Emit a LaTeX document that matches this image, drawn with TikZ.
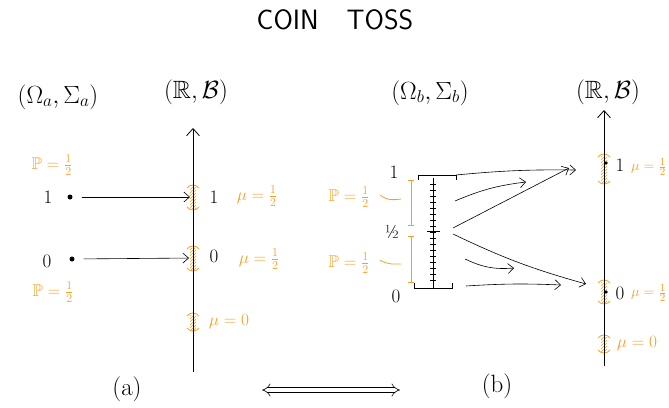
\documentclass[tikz,border=0pt]{standalone}
\usepackage{amsmath,amssymb}
\usepackage{xcolor}
\usetikzlibrary{positioning,arrows.meta,calc,patterns}
\definecolor{measorange}{RGB}{245,160,35}
\tikzset{
space/.style={
font=\fontsize{25}{27}\selectfont,
inner sep=1pt
},
numlbl/.style={
font=\fontsize{19}{21}\selectfont,
inner sep=1pt
},
problbl/.style={
text=measorange,
font=\fontsize{17}{19}\selectfont,
inner sep=1pt
},
axis/.style={
thick,
-{Straight Barb[length=2.5mm,width=4.5mm]}
},
arrow/.style={
semithick,
-{Straight Barb[length=2mm,width=3.5mm]}
},
dot/.style={
circle,
fill,
inner sep=0pt,
minimum size=5pt
},
bracket/.style={
measorange,
thick
}
}
% orange interval on an axis: x, top y, bottom y
\newcommand{\measbar}[3]{%
\draw[bracket] (#1-6,#2+4) .. controls (#1-3,#2) and (#1+3,#2) .. (#1+6,#2+4);
\draw[bracket] (#1-6,#3-4) .. controls (#1-3,#3) and (#1+3,#3) .. (#1+6,#3-4);
\fill[pattern=north east lines,pattern color=measorange] (#1-3,#2+3) rectangle (#1+3,#3-3);
}

\begin{document}
\begin{tikzpicture}[x=1pt,y=-1pt]
\useasboundingbox (0,0) rectangle (669,407);
\node[font=\sffamily\fontsize{28}{30}\selectfont](title) at (335,20){COIN\quad TOSS};

% (a)
\node[space](omegaA) at (58,97){$(\Omega_a,\Sigma_a)$};
\node[space](realA) at (196,92){$(\mathbb{R},\mathcal{B})$};
\coordinate (axAbot) at (193,372);
\coordinate (axAtop) at (193,128);
\measbar{193}{184}{211}
\measbar{193}{245}{272}
\measbar{193}{312}{332}
\draw[axis](axAbot)--(axAtop);

\node[dot](a1) at (70,197){};
\node[dot](a0) at (72,259){};
\node[numlbl](a1lbl) at (48,197){1};
\node[numlbl](a0lbl) at (47,261){0};
\node[problbl](pa1) at (52,165){$\mathbb{P}=\frac{1}{2}$};
\node[problbl](pa0) at (53,292){$\mathbb{P}=\frac{1}{2}$};

\coordinate (ra1) at (193,197);
\coordinate (ra0) at (193,258);
\draw[arrow,shorten <=9pt,shorten >=3pt](a1)--(ra1);
\draw[arrow,shorten <=9pt,shorten >=4pt](a0)--(ra0);
\node[numlbl](ra1lbl) at (214,197){1};
\node[numlbl](ra0lbl) at (214,256){0};
\node[problbl](ma1) at (257,196){$\mu=\frac{1}{2}$};
\node[problbl](ma0) at (259,259){$\mu=\frac{1}{2}$};
\node[problbl](ma2) at (229,322){$\mu=0$};

% (b)
\node[space](omegaB) at (430,93){$(\Omega_b,\Sigma_b)$};
\node[space](realB) at (608,92){$(\mathbb{R},\mathcal{B})$};
\coordinate (axBbot) at (604,366);
\coordinate (axBtop) at (604,110);
\measbar{604}{153}{185}
\measbar{604}{279}{305}
\measbar{604}{334}{354}
\draw[axis](axBbot)--(axBtop);
\node[dot,minimum size=3.5pt](rb1) at (606,163){};
\node[dot,minimum size=3.5pt](rb0) at (606,292){};
\node[numlbl](rb1lbl) at (620,165){1};
\node[numlbl](rb0lbl) at (620,293){0};
\node[problbl,anchor=west,font=\fontsize{15}{17}\selectfont](mb1) at (630,167){$\mu=\frac{1}{2}$};
\node[problbl,anchor=west,font=\fontsize{15}{17}\selectfont](mb0) at (630,293){$\mu=\frac{1}{2}$};
\node[problbl](mb2) at (637,344){$\mu=0$};

% unit interval
\coordinate (ib0) at (433,288);
\coordinate (ib1) at (433,178);
\draw[thick](ib0)--(ib1);
\foreach \y in {184,190,...,280}
\draw[thin](430,\y)--(436,\y);
\draw[thick](427,231)--(440,231);
\draw[thick](418,180)--(418,175)--(456,175)--(456,180);
\draw[thick](414,283)--(414,288)--(452,288)--(452,283);
\node[numlbl](ib1lbl) at (394,172){1};
\node[numlbl](ibhlbl) at (392,232){½};
\node[numlbl](ib0lbl) at (396,296){0};

\draw[bracket](408,180)--(414,180) (411,180)--(411,225) (408,225)--(414,225);
\draw[bracket](408,236)--(414,236) (411,236)--(411,282) (408,282)--(414,282);
\draw[bracket](380,195) .. controls (388,201) and (394,200) .. (401,199);
\draw[bracket](380,260) .. controls (388,265) and (394,264) .. (401,264);
\node[problbl](pb1) at (349,197){$\mathbb{P}=\frac{1}{2}$};
\node[problbl](pb0) at (349,263){$\mathbb{P}=\frac{1}{2}$};

\coordinate (s1) at (456,175);
\coordinate (s2) at (455,201);
\coordinate (s3) at (453,228);
\coordinate (s4) at (453,234);
\coordinate (s5) at (465,259);
\coordinate (s6) at (466,286);
\coordinate (e1) at (576,170);
\coordinate (e2) at (526,182);
\coordinate (e3) at (569,168);
\coordinate (e4) at (586,284);
\coordinate (e5) at (514,268);
\coordinate (e6) at (561,285);
\draw[arrow](s1) to[bend left=3] (e1);
\draw[arrow](s2) to[bend left=8] (e2);
\draw[arrow](s3)--(e3);
\draw[arrow](s4) to[bend right=5] (e4);
\draw[arrow](s5) to[bend right=15] (e5);
\draw[arrow](s6) to[bend left=3] (e6);

% bottom
\node[space](capA) at (127,389){(a)};
\node[space](capB) at (497,386){(b)};
\coordinate (eqL) at (262,390);
\coordinate (eqR) at (400,390);
\draw[line width=0.6pt,double=white,double distance=4pt,{Implies}-{Implies}](eqL)--(eqR);
\end{tikzpicture}
\end{document}
